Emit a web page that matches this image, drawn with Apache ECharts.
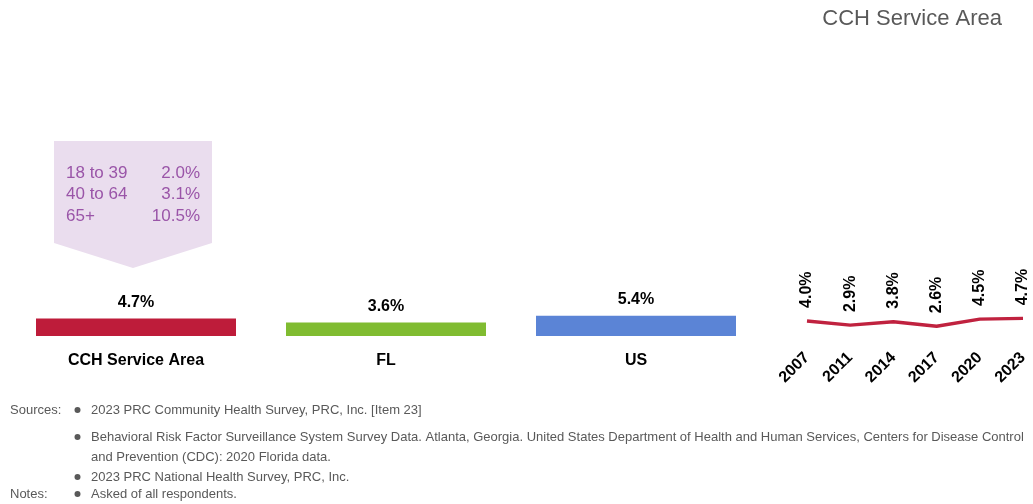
<!DOCTYPE html>
<html>
<head>
<meta charset="utf-8">
<script src="https://cdn.jsdelivr.net/npm/echarts@6/dist/echarts.min.js"></script>
<style>
  html, body { margin: 0; padding: 0; background: #fff; }
  #chart { width: 1033px; height: 504px; }
</style>
</head>
<body>
<div id="chart"></div>
<script>
// Comparison bars
const areaNames = ['CCH Service Area', 'FL', 'US'];
const areaValues = [4.7, 3.6, 5.4];
const areaColors = ['#BE1C3A', '#80BC31', '#5B84D6'];

// Trend for the service area
const trendYears = ['2007', '2011', '2014', '2017', '2020', '2023'];
const trendValues = [4.0, 2.9, 3.8, 2.6, 4.5, 4.7];

// Age breakdown shown in the callout
const ageGroups = ['18 to 39', '40 to 64', '65+'];
const ageValues = ['2.0%', '3.1%', '10.5%'];

const sourceLines = [
  { head: 'Sources:', bullet: true, text: '2023 PRC Community Health Survey, PRC, Inc. [Item 23]' },
  { head: '', bullet: true, text: 'Behavioral Risk Factor Surveillance System Survey Data. Atlanta, Georgia. United States Department of Health and Human Services, Centers for Disease Control' },
  { head: '', bullet: false, text: 'and Prevention (CDC): 2020 Florida data.' },
  { head: '', bullet: true, text: '2023 PRC National Health Survey, PRC, Inc.' },
  { head: 'Notes:', bullet: true, text: 'Asked of all respondents.' }
];

const SANS = '"Liberation Sans", Arial, sans-serif';

const chart = echarts.init(document.getElementById('chart'));

const graphics = [];
// Title
graphics.push({
  type: 'text', right: 31, top: 8,
  style: { text: 'CCH Service Area', fill: '#595959', font: '22px ' + SANS }
});
// Callout shape
graphics.push({
  type: 'polygon',
  shape: { points: [[54, 141], [212, 141], [212, 243], [133, 268], [54, 243]] },
  style: { fill: '#EADDEE' }
});
ageGroups.forEach((g, i) => {
  graphics.push({
    type: 'text', x: 66, y: 173 + i * 21.5,
    style: { text: g, fill: '#9A55A8', font: '17px ' + SANS, verticalAlign: 'middle', align: 'left' }
  });
  graphics.push({
    type: 'text', x: 200, y: 173 + i * 21.5,
    style: { text: ageValues[i], fill: '#9A55A8', font: '17px ' + SANS, verticalAlign: 'middle', align: 'right' }
  });
});
// Footer
const lineYs = [410, 437, 457, 477, 494];
sourceLines.forEach((ln, i) => {
  const y = lineYs[i];
  if (ln.head) {
    graphics.push({ type: 'text', x: 10, y: y,
      style: { text: ln.head, fill: '#595959', font: '13px ' + SANS, verticalAlign: 'middle' } });
  }
  if (ln.bullet) {
    graphics.push({ type: 'circle', shape: { cx: 77.5, cy: y, r: 3 }, style: { fill: '#595959' } });
  }
  graphics.push({ type: 'text', x: 91, y: y,
    style: { text: ln.text, fill: '#595959', font: '13px ' + SANS, verticalAlign: 'middle' } });
});

chart.setOption({
  animation: false,
  grid: [
    { left: 11, width: 750, top: 186, height: 150 },
    { left: 807, width: 216, top: 186, height: 150 }
  ],
  xAxis: [
    {
      gridIndex: 0, type: 'category', data: areaNames,
      axisLine: { show: false }, axisTick: { show: false },
      axisLabel: { margin: 17, color: '#000', fontWeight: 'bold', fontSize: 16, fontFamily: SANS }
    },
    {
      gridIndex: 1, type: 'category', data: trendYears, boundaryGap: false,
      axisLine: { show: false }, axisTick: { show: false },
      axisLabel: { margin: 19, rotate: 45, color: '#000', fontWeight: 'bold', fontSize: 16, fontFamily: SANS }
    }
  ],
  yAxis: [
    { gridIndex: 0, type: 'value', min: 0, max: 40, show: false, splitLine: { show: false } },
    { gridIndex: 1, type: 'value', min: 0, max: 40, show: false, splitLine: { show: false } }
  ],
  series: [
    {
      type: 'bar', xAxisIndex: 0, yAxisIndex: 0,
      barCategoryGap: '20%',
      data: areaValues.map((v, i) => ({ value: v, itemStyle: { color: areaColors[i] } })),
      label: {
        show: true, position: 'top', distance: 8,
        formatter: p => p.value.toFixed(1) + '%',
        color: '#000', fontWeight: 'bold', fontSize: 16, fontFamily: SANS
      }
    },
    {
      type: 'line', xAxisIndex: 1, yAxisIndex: 1,
      data: trendValues, showSymbol: true, symbol: 'circle', symbolSize: 0.1,
      itemStyle: { color: '#C0223F' },
      lineStyle: { color: '#C0223F', width: 3.5 },
      label: {
        show: true, position: 'top', distance: 13, rotate: 90,
        align: 'left', verticalAlign: 'middle',
        formatter: p => p.value.toFixed(1) + '%',
        color: '#000', fontWeight: 'bold', fontSize: 16, fontFamily: SANS
      }
    }
  ],
  graphic: graphics
});
</script>
</body>
</html>
